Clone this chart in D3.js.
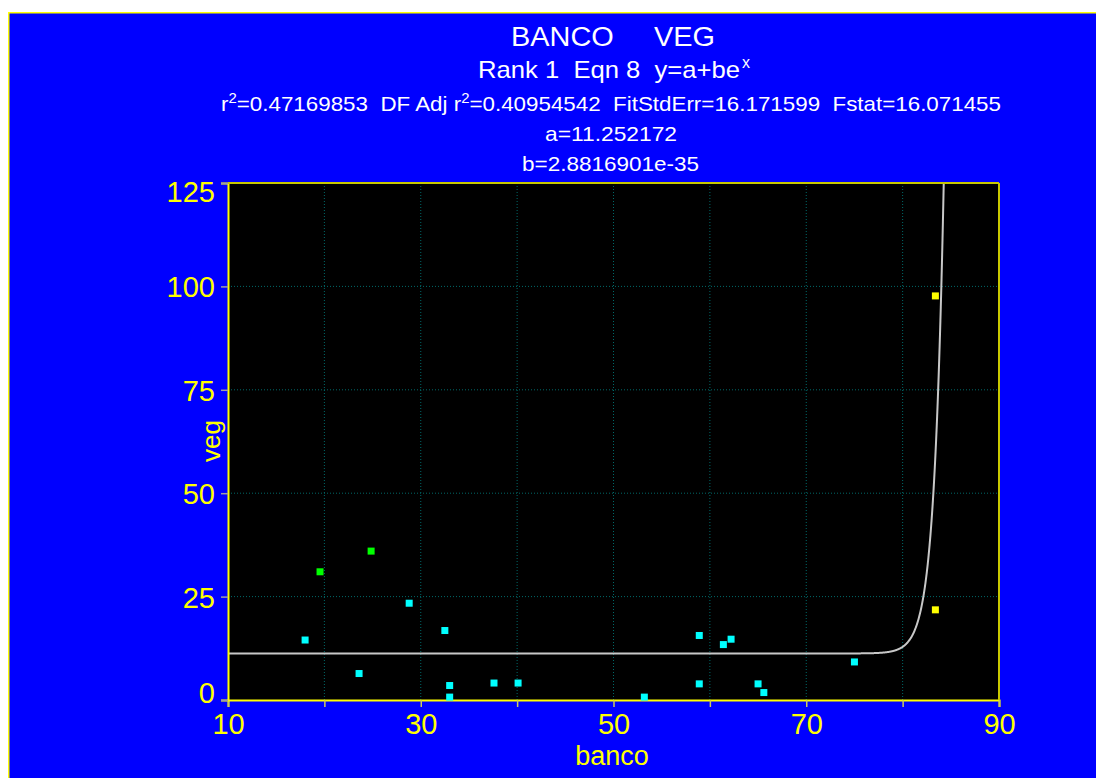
<!DOCTYPE html>
<html><head><meta charset="utf-8">
<script src="https://cdn.jsdelivr.net/npm/d3@7"></script>
<style>html,body{margin:0;padding:0;background:#fff;overflow:hidden}</style>
</head><body><svg id="c" width="1096" height="778"></svg>
<script>
// Data
const cyanX = [18.0, 23.6, 28.8, 32.5, 33.0, 33.0, 37.6, 40.1, 53.2, 58.9, 58.9, 61.4, 62.2, 65.0, 65.6, 75.0];
const cyanY = [14.5, 6.4, 23.4, 16.8, 3.5, 0.7, 4.1, 4.1, 0.7, 15.6, 3.9, 13.4, 14.7, 3.9, 1.8, 9.2];
const greenX = [19.55, 24.85];
const greenY = [31.0, 36.0];
const yellowX = [83.4, 83.4];
const yellowY = [97.7, 21.8];
const xTicks = [10, 20, 30, 40, 50, 60, 70, 80, 90];
const xLabels = [10, 30, 50, 70, 90];
const yTicks = [0, 25, 50, 75, 100, 125];
const paramA = 11.252172, paramB = 2.8816901e-35;

const svg = d3.select("#c");
const font = "Arial, 'Liberation Sans', sans-serif";
svg.append("rect").attr("x", 8).attr("y", 12).attr("width", 1088).attr("height", 766).attr("fill", "#0000ff");
svg.append("path").attr("d", "M8.75,778 V12.75 H1096").attr("fill", "none").attr("stroke", "#ffff00").attr("stroke-width", 1.5);

const L = 228, R = 999, T = 183, B = 700;
const x = d3.scaleLinear().domain([10, 90]).range([L, R]);
const y = d3.scaleLinear().domain([0, 125]).range([B, T]);

svg.append("rect").attr("x", L).attr("y", T).attr("width", R - L).attr("height", B - T).attr("fill", "#000");

// grid
const g = svg.append("g");
g.selectAll("line.vx").data(xTicks.filter(d => d > 10 && d < 90)).enter().append("line")
  .attr("x1", d => x(d)).attr("x2", d => x(d)).attr("y1", T).attr("y2", B)
  .attr("stroke", "#006868").attr("stroke-width", 1).attr("stroke-dasharray", "1,2");
g.selectAll("line.hy").data(yTicks.filter(d => d > 0 && d < 125)).enter().append("line")
  .attr("x1", L).attr("x2", R).attr("y1", d => y(d)).attr("y2", d => y(d))
  .attr("stroke", "#006868").attr("stroke-width", 1).attr("stroke-dasharray", "1,2");

// fit curve y = a + b e^x
const xs = d3.range(10, 90.001, 0.02);
const curve = xs.map(v => [v, paramA + paramB * Math.exp(v)]).filter(p => p[1] <= 200);
svg.append("defs").append("clipPath").attr("id", "clip").append("rect")
  .attr("x", L).attr("y", T).attr("width", R - L).attr("height", B - T);
svg.append("path").datum(curve).attr("clip-path", "url(#clip)")
  .attr("d", d3.line().x(d => x(d[0])).y(d => y(d[1])))
  .attr("fill", "none").attr("stroke", "#c8c8c8").attr("stroke-width", 2);

// axes
const xAxis = svg.append("g").attr("transform", `translate(0,${B})`)
  .call(d3.axisBottom(x).tickValues(xTicks).tickSize(7).tickFormat(d => xLabels.includes(d) ? d : ""));
xAxis.select(".domain").attr("stroke", "#ffff00").attr("stroke-width", 2);
xAxis.selectAll(".tick line").attr("stroke", "#c8c860").attr("stroke-width", 1.5);
xAxis.selectAll(".tick text").attr("fill", "#ffff00").attr("font-size", 29).attr("font-family", font)
  .attr("dy", null).attr("y", 34);

const yAxis = svg.append("g").attr("transform", `translate(${L},0)`)
  .call(d3.axisLeft(y).tickValues(yTicks).tickSize(7).tickPadding(6));
yAxis.select(".domain").attr("stroke", "#ffff00").attr("stroke-width", 2);
yAxis.selectAll(".tick line").attr("stroke", "#a0a0a0").attr("stroke-width", 1.5);
yAxis.selectAll(".tick text").attr("fill", "#ffff00").attr("font-size", 29).attr("font-family", font)
  .attr("dy", "0.36em").attr("y", d => d === 125 ? 8 : (d === 0 ? -8 : 0));

svg.append("line").attr("x1", R).attr("x2", R).attr("y1", T).attr("y2", B).attr("stroke", "#c8c800").attr("stroke-width", 2);
svg.append("line").attr("x1", L).attr("x2", R).attr("y1", T).attr("y2", T).attr("stroke", "#c8c800").attr("stroke-width", 2);

// points
function pts(xsArr, ysArr, col) {
  svg.append("g").selectAll("rect").data(xsArr.map((v, i) => [v, ysArr[i]])).enter().append("rect")
    .attr("x", d => x(d[0]) - 3.5).attr("y", d => y(d[1]) - 3.5).attr("width", 7).attr("height", 7)
    .attr("fill", col);
}
pts(cyanX, cyanY, "#00ffff");
pts(greenX, greenY, "#00ff00");
pts(yellowX, yellowY, "#ffff00");

// titles
function txt(xp, yp, size) {
  return svg.append("text").attr("x", xp).attr("y", yp).attr("fill", "#fff")
    .attr("font-family", font).attr("font-size", size).style("white-space", "pre");
}
txt(511, 46, 27).attr("textLength", 204).attr("lengthAdjust", "spacingAndGlyphs").text("BANCO     VEG");
const t2 = txt(478, 78, 24);
t2.append("tspan").attr("textLength", 262).attr("lengthAdjust", "spacingAndGlyphs").text("Rank 1  Eqn 8  y=a+be");
t2.append("tspan").attr("x", 742).attr("dy", -10).attr("font-size", 16).text("x");
const t3 = txt(221, 111, 21);
t3.append("tspan").text("r");
t3.append("tspan").attr("dy", -8).attr("font-size", 14).text("2");
t3.append("tspan").attr("dy", 8).text("=0.47169853  DF Adj r");
t3.append("tspan").attr("dy", -8).attr("font-size", 14).text("2");
t3.append("tspan").attr("dy", 8).text("=0.40954542  FitStdErr=16.171599  Fstat=16.071455");
t3.attr("textLength", 780).attr("lengthAdjust", "spacingAndGlyphs");
txt(545, 141, 21).attr("textLength", 132).attr("lengthAdjust", "spacingAndGlyphs").text("a=11.252172");
txt(522, 171, 21).attr("textLength", 177).attr("lengthAdjust", "spacingAndGlyphs").text("b=2.8816901e-35");

// axis titles
svg.append("text").attr("x", 612).attr("y", 765).attr("text-anchor", "middle").attr("fill", "#ffff00")
  .attr("font-family", font).attr("font-size", 27).text("banco");
svg.append("text").attr("transform", "translate(220,441) rotate(-90)").attr("text-anchor", "middle").attr("fill", "#ffff00")
  .attr("font-family", font).attr("font-size", 26).text("veg");
</script></body></html>
